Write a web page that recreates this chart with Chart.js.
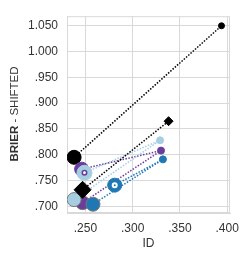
<!DOCTYPE html>
<html>
<head>
<meta charset="utf-8">
<script src="https://cdn.jsdelivr.net/npm/chart.js@4.4.0/dist/chart.umd.min.js"></script>
<style>
  html, body { margin: 0; padding: 0; background: #fff; }
  #wrap { width: 248px; height: 260px; }
</style>
</head>
<body>
<div id="wrap"><canvas id="chart"></canvas></div>
<script>
// each series: start point(s) joined to one end point
const blackCircleX = [0.238, 0.394];
const blackCircleY = [0.795, 1.050];
const blackDiamondX = [0.247, 0.338];
const blackDiamondY = [0.732, 0.865];
const purpleX = [0.246, 0.330, 0.247];
const purpleY = [0.772, 0.808, 0.707];
const lightBlueX = [0.249, 0.329, 0.238];
const lightBlueY = [0.765, 0.828, 0.713];
const blueX = [0.281, 0.332, 0.258];
const blueY = [0.741, 0.791, 0.704];

const xTicks = [0.25, 0.30, 0.35, 0.40];
const yTicks = [0.70, 0.75, 0.80, 0.85, 0.90, 0.95, 1.00, 1.05];

const BLACK = "#000000";
const PURPLE = "#6a3d9a";
const LIGHTBLUE = "#a6cee3";
const BLUE = "#1f78b4";
const GRID = "#d9d9d9";
const TEXT = "#333333";
const EDGE = "#7a7a7a";

function pts(xs, ys) {
    return xs.map((x, i) => ({ x: x, y: ys[i] }));
}

function fmt(v) {
    return Number(v).toFixed(3).replace(/^0/, "");
}

const base = {
    showLine: true,
    borderDash: [1.5, 1.5],
    borderWidth: 1.5,
    pointBorderWidth: 1
};

// chart.js paints dataset 0 last, so the list runs from top layer to bottom layer
const datasets = [
    // small ring marks sitting in the middle of two big circles
    {
        data: [pts(lightBlueX, lightBlueY)[0], pts(blueX, blueY)[0]],
        showLine: false,
        pointRadius: [2.2, 2],
        pointBorderWidth: [1.6, 2],
        pointBackgroundColor: ["#ffffff", BLUE],
        pointBorderColor: [PURPLE, "#ffffff"]
    },
    Object.assign({}, base, {
        data: pts(blackDiamondX, blackDiamondY),
        borderColor: BLACK,
        pointBackgroundColor: BLACK,
        pointBorderColor: BLACK,
        pointRadius: [8.5, 4.5],
        pointStyle: "rectRot"
    }),
    Object.assign({}, base, {
        data: pts(blueX, blueY),
        borderColor: BLUE,
        pointBackgroundColor: BLUE,
        pointBorderColor: [BLUE, BLUE, EDGE],
        pointRadius: [7, 3.5, 7],
        pointStyle: "circle"
    }),
    Object.assign({}, base, {
        data: pts(lightBlueX, lightBlueY),
        borderColor: LIGHTBLUE,
        pointBackgroundColor: LIGHTBLUE,
        pointBorderColor: [LIGHTBLUE, LIGHTBLUE, EDGE],
        pointRadius: [7.5, 3.5, 7],
        pointStyle: "circle"
    }),
    Object.assign({}, base, {
        data: pts(purpleX, purpleY),
        borderColor: PURPLE,
        pointBackgroundColor: PURPLE,
        pointBorderColor: [PURPLE, PURPLE, EDGE],
        pointRadius: [7, 3.5, 7],
        pointStyle: "circle"
    }),
    Object.assign({}, base, {
        data: pts(blackCircleX, blackCircleY),
        borderColor: BLACK,
        pointBackgroundColor: BLACK,
        pointBorderColor: BLACK,
        pointRadius: [7, 3],
        pointStyle: "circle"
    })
];

const framePlugin = {
    id: "frame",
    beforeDatasetsDraw(chart) {
        const a = chart.chartArea, ctx = chart.ctx;
        ctx.save();
        ctx.strokeStyle = GRID;
        ctx.lineWidth = 1;
        ctx.strokeRect(a.left + 0.5, a.top + 0.5, a.right - a.left - 1, a.bottom - a.top - 1);
        ctx.restore();
    },
    afterDraw(chart) {
        const a = chart.chartArea, ctx = chart.ctx;
        ctx.save();
        ctx.fillStyle = TEXT;
        ctx.textBaseline = "middle";
        // x title
        ctx.font = "12px 'Liberation Sans', Arial, sans-serif";
        ctx.textAlign = "center";
        ctx.fillText("ID", (a.left + a.right) / 2, 244);
        // y title, bold first word
        const boldFont = "bold 11.5px 'Liberation Sans', Arial, sans-serif";
        const normFont = "11.5px 'Liberation Sans', Arial, sans-serif";
        ctx.font = boldFont;
        const w1 = ctx.measureText("BRIER").width;
        ctx.font = normFont;
        const w2 = ctx.measureText(" - SHIFTED").width;
        ctx.translate(15, 114);
        ctx.rotate(-Math.PI / 2);
        ctx.textAlign = "left";
        const start = -(w1 + w2) / 2;
        ctx.font = boldFont;
        ctx.fillText("BRIER", start, 0);
        ctx.font = normFont;
        ctx.fillText(" - SHIFTED", start + w1, 0);
        ctx.restore();
    }
};

new Chart(document.getElementById("chart"), {
    type: "scatter",
    data: { datasets },
    options: {
        responsive: true,
        maintainAspectRatio: false,
        animation: false,
        layout: { padding: { left: 0, right: 18, top: 8, bottom: 0 } },
        plugins: { legend: { display: false }, tooltip: { enabled: false } },
        scales: {
            x: {
                type: "linear",
                min: 0.2305,
                max: 0.403,
                afterBuildTicks: s => { s.ticks = xTicks.map(v => ({ value: v })); },
                afterFit: s => { s.height = 47; },
                grid: { color: GRID, lineWidth: 1, drawTicks: false },
                border: { display: true, color: GRID },
                ticks: {
                    padding: 8,
                    color: TEXT,
                    font: { family: "'Liberation Sans', Arial, sans-serif", size: 12 },
                    maxRotation: 0,
                    callback: v => fmt(v)
                }
            },
            y: {
                type: "linear",
                min: 0.687,
                max: 1.0686,
                afterBuildTicks: s => { s.ticks = yTicks.map(v => ({ value: v })); },
                afterFit: s => { s.width = 67; },
                grid: { color: GRID, lineWidth: 1, drawTicks: false },
                border: { display: true, color: GRID },
                ticks: {
                    padding: 9,
                    color: TEXT,
                    font: { family: "'Liberation Sans', Arial, sans-serif", size: 12 },
                    callback: v => fmt(v)
                }
            }
        }
    },
    plugins: [framePlugin]
});
</script>
</body>
</html>
